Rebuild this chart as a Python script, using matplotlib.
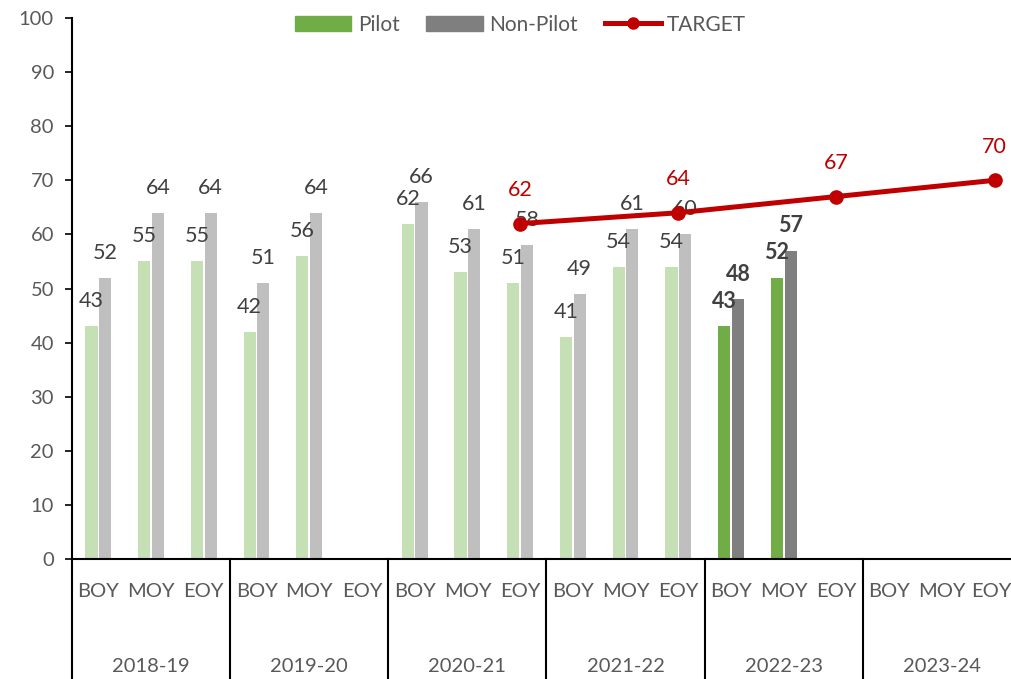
import numpy as np
import matplotlib.pyplot as plt
from matplotlib.patches import Patch
from matplotlib.lines import Line2D
import matplotlib.transforms as mtransforms

plt.rcParams['font.family'] = ['Lato', 'DejaVu Sans']

years = ["2018-19", "2019-20", "2020-21", "2021-22", "2022-23", "2023-24"]
terms = ["BOY", "MOY", "EOY"]
pilot = [43, 55, 55, 42, 56, None, 62, 53, 51, 41, 54, 54, 43, 52, None, None, None, None]
non_pilot = [52, 64, 64, 51, 64, None, 66, 61, 58, 49, 61, 60, 48, 57, None, None, None, None]
target_idx = [8, 11, 14, 17]
target = [62, 64, 67, 70]
current_year = "2022-23"

light_green, dark_green = "#C5E0B4", "#70AD47"
light_gray, dark_gray = "#BFBFBF", "#7F7F7F"
red = "#C00000"
label_col = "#404040"
axis_txt = "#595959"

n = len(years) * len(terms)
x = np.arange(n)
cur = [years[i // 3] == current_year for i in range(n)]

fig = plt.figure(figsize=(10.11, 6.79), dpi=100)
ax = fig.add_axes([0.0712, 0.1767, 0.9387, 0.7968])

bw = 0.23
off = 0.13
for i in range(n):
    for vals, dx, cl, cd in [(pilot, -off, light_green, dark_green),
                             (non_pilot, off, light_gray, dark_gray)]:
        v = vals[i]
        if v is None:
            continue
        ax.bar(x[i] + dx, v, width=bw, color=cd if cur[i] else cl, zorder=2)
        ax.annotate(str(v), (x[i] + dx, v), xytext=(0, 18), textcoords="offset points",
                    ha="center", va="center", fontsize=15.5, color=label_col,
                    fontweight="bold" if cur[i] else "normal")

ax.plot(target_idx, target, color=red, lw=3.6, marker="o", ms=9.5, zorder=3)
for xi, v in zip(target_idx, target):
    ax.annotate(str(v), (xi, v), xytext=(0, 24), textcoords="offset points",
                ha="center", va="center", fontsize=15.5, color=red)

ax.set_xlim(-0.5, n - 0.5)
ax.set_ylim(0, 100)
ax.set_yticks(np.arange(0, 101, 10))
ax.tick_params(axis="y", labelsize=14.5, labelcolor=axis_txt, length=5, width=1.2, pad=8)
ax.set_xticks(x)
tick_labels = terms * len(years)
ax.set_xticklabels(tick_labels[:-1] + [""], fontsize=14.5, color=axis_txt)
ax.tick_params(axis="x", length=0, pad=17)
# last label sits inside the figure edge
ax.annotate(tick_labels[-1], (x[-1], 0), xycoords=("data", "axes fraction"),
            xytext=(12, -17), textcoords="offset points", ha="right", va="top",
            fontsize=14.5, color=axis_txt, annotation_clip=False)
for s in ["top", "right"]:
    ax.spines[s].set_visible(False)
for s in ["left", "bottom"]:
    ax.spines[s].set_linewidth(1.5)

trans = mtransforms.blended_transform_factory(ax.transData, ax.transAxes)
for g in range(len(years) + 1):
    b = g * 3 - 0.5
    ax.plot([b, b], [0, -0.25], color="black", lw=1.5, transform=trans, clip_on=False)
for g, yr in enumerate(years):
    ax.text(g * 3 + 1, -0.198, yr, transform=trans, ha="center", va="center",
            fontsize=14.5, color=axis_txt)

handles = [Patch(color=dark_green), Patch(color=dark_gray),
           Line2D([0], [0], color=red, lw=3.6, marker="o", ms=8)]
fig.legend(handles, ["Pilot", "Non-Pilot", "TARGET"], loc="upper center",
           bbox_to_anchor=(0.515, 1.006), ncol=3, frameon=False, fontsize=15,
           labelcolor=axis_txt, handlelength=2.7, handleheight=0.75,
           handletextpad=0.3, columnspacing=1.3)

fig.savefig("out.png", dpi=100)
